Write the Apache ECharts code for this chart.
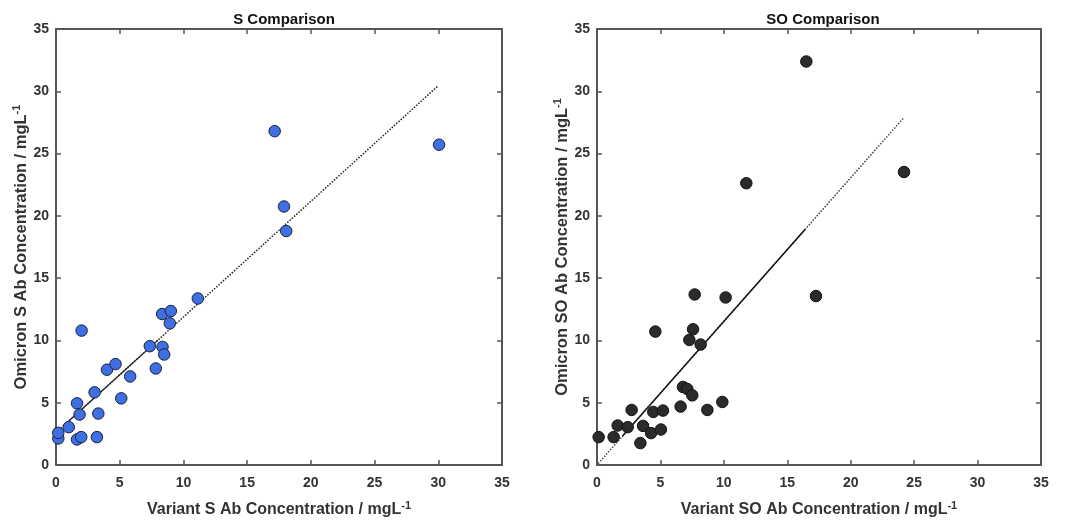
<!DOCTYPE html>
<html>
<head>
<meta charset="utf-8">
<script src="https://cdn.jsdelivr.net/npm/echarts@6/dist/echarts.min.js"></script>
<style>
html,body{margin:0;padding:0;background:#fff;}
#chart{width:1073px;height:523px;}
</style>
</head>
<body>
<div id="chart"></div>
<script>
// S comparison: [variant, omicron]
const sPoints = [
  [0.18,2.13],[0.18,2.58],[1.0,3.04],[1.65,2.05],[1.98,2.24],[1.65,4.95],[1.85,4.05],
  [2.01,10.79],[3.21,2.24],[3.32,4.13],[3.03,5.83],[4.0,7.65],[4.67,8.10],[5.12,5.35],
  [5.82,7.11],[7.36,9.54],[7.83,7.75],[8.36,9.48],[8.49,8.87],[8.33,12.12],[9.01,12.36],
  [8.93,11.37],[11.13,13.37],[17.16,26.80],[17.89,20.75],[18.07,18.78],[30.06,25.71]
];
const sFitDotted = [[0.2,2.78],[30.0,30.45]];
const sFitSolid = [[1.0,3.53],[8.0,10.02]];

// SO comparison: [variant, omicron]
const soPoints = [
  [0.13,2.24],[1.31,2.24],[1.63,3.17],[2.42,3.04],[2.73,4.42],[3.63,3.14],[3.42,1.76],
  [4.26,2.56],[4.44,4.26],[4.60,10.71],[5.04,2.85],[5.20,4.37],[6.59,4.69],[6.78,6.26],
  [7.12,6.10],[7.51,5.59],[7.28,10.04],[7.57,10.89],[8.17,9.67],[7.70,13.69],[8.70,4.42],
  [9.88,5.06],[10.14,13.45],[11.77,22.62],[16.50,32.39],[17.26,13.56],[24.20,23.52]
];
const soFitDotted = [[0.1,0.12],[24.2,27.9]];
const soFitSolid = [[2.0,2.31],[16.4,18.9]];

const titles = ['S Comparison','SO Comparison'];
const xNames = ['Variant S Ab Concentration / mgL{sup|-1}','Variant SO Ab Concentration / mgL{sup|-1}'];
const yNames = ['Omicron S Ab Concentration / mgL{sup|-1}','Omicron SO Ab Concentration / mgL{sup|-1}'];
const axisMin = 0, axisMax = 35, axisStep = 5;

const FONT = '"Liberation Sans", Arial, sans-serif';
const frameColor = '#555';
const labelColor = '#333';

function nameStyle(size){
  return {
    fontFamily: FONT, fontWeight: 'bold', fontSize: size, color: labelColor,
    rich: { sup: { fontFamily: FONT, fontWeight: 'bold', fontSize: 11, color: labelColor, verticalAlign: 'top', padding: [0,0,9,0] } }
  };
}

function mainX(gi, name){
  return {
    type:'value', gridIndex: gi, min: axisMin, max: axisMax, interval: axisStep, position:'bottom',
    name: name, nameLocation:'middle', nameGap: 35, nameTextStyle: nameStyle(16),
    axisLine:{show:true, onZero:false, lineStyle:{color:frameColor, width:2}},
    axisTick:{show:true, inside:true, length:5, lineStyle:{color:frameColor, width:1.5}},
    axisLabel:{fontFamily:FONT, fontWeight:'bold', fontSize:14, color:labelColor, margin:11},
    splitLine:{show:false}
  };
}
function topX(gi){
  return {
    type:'value', gridIndex: gi, min: axisMin, max: axisMax, interval: axisStep, position:'top',
    axisLine:{show:true, onZero:false, lineStyle:{color:frameColor, width:2}},
    axisTick:{show:true, inside:true, length:5, lineStyle:{color:frameColor, width:1.5}},
    axisLabel:{show:false}, splitLine:{show:false}
  };
}
function mainY(gi, name){
  return {
    type:'value', gridIndex: gi, min: axisMin, max: axisMax, interval: axisStep, position:'left',
    name: name, nameLocation:'middle', nameGap: 25, nameTextStyle: nameStyle(16.5),
    axisLine:{show:true, onZero:false, lineStyle:{color:frameColor, width:2}},
    axisTick:{show:true, inside:true, length:5, lineStyle:{color:frameColor, width:1.5}},
    axisLabel:{fontFamily:FONT, fontWeight:'bold', fontSize:14, color:labelColor, margin:7},
    splitLine:{show:false}
  };
}
function rightY(gi){
  return {
    type:'value', gridIndex: gi, min: axisMin, max: axisMax, interval: axisStep, position:'right',
    axisLine:{show:true, onZero:false, lineStyle:{color:frameColor, width:2}},
    axisTick:{show:true, inside:true, length:5, lineStyle:{color:frameColor, width:1.5}},
    axisLabel:{show:false}, splitLine:{show:false}
  };
}

const chart = echarts.init(document.getElementById('chart'), null, {renderer:'canvas'});
chart.setOption({
  animation:false,
  backgroundColor:'#fff',
  title:[
    {text:titles[0], left:279, top:7, textAlign:'center', textStyle:{fontFamily:FONT, fontWeight:'bold', fontSize:15, color:'#111'}},
    {text:titles[1], left:818, top:7, textAlign:'center', textStyle:{fontFamily:FONT, fontWeight:'bold', fontSize:15, color:'#111'}}
  ],
  grid:[
    {left:56, top:29, width:446, height:438},
    {left:597, top:29, width:444, height:438}
  ],
  xAxis:[mainX(0,xNames[0]), topX(0), mainX(1,xNames[1]), topX(1)],
  yAxis:[mainY(0,yNames[0]), rightY(0), mainY(1,yNames[1]), rightY(1)],
  series:[
    {type:'line', xAxisIndex:0, yAxisIndex:0, data:sFitDotted, symbol:'none', lineStyle:{type:'dotted', width:1.5, color:'#222'}, z:2},
    {type:'line', xAxisIndex:0, yAxisIndex:0, data:sFitSolid, symbol:'none', lineStyle:{type:'solid', width:1.2, color:'#222'}, z:2},
    {type:'scatter', xAxisIndex:0, yAxisIndex:0, data:sPoints, symbolSize:11.5,
      itemStyle:{color:'#3f6fe0', borderColor:'#16223f', borderWidth:1, opacity:1}, z:3},
    {type:'line', xAxisIndex:2, yAxisIndex:2, data:soFitDotted, symbol:'none', lineStyle:{type:'dotted', width:1.5, color:'#444'}, z:2},
    {type:'line', xAxisIndex:2, yAxisIndex:2, data:soFitSolid, symbol:'none', lineStyle:{type:'solid', width:1.4, color:'#111'}, z:2},
    {type:'scatter', xAxisIndex:2, yAxisIndex:2, data:soPoints, symbolSize:11.5,
      itemStyle:{color:'#2b2b2b', borderColor:'#111', borderWidth:1, opacity:1}, z:3}
  ]
});
</script>
</body>
</html>
